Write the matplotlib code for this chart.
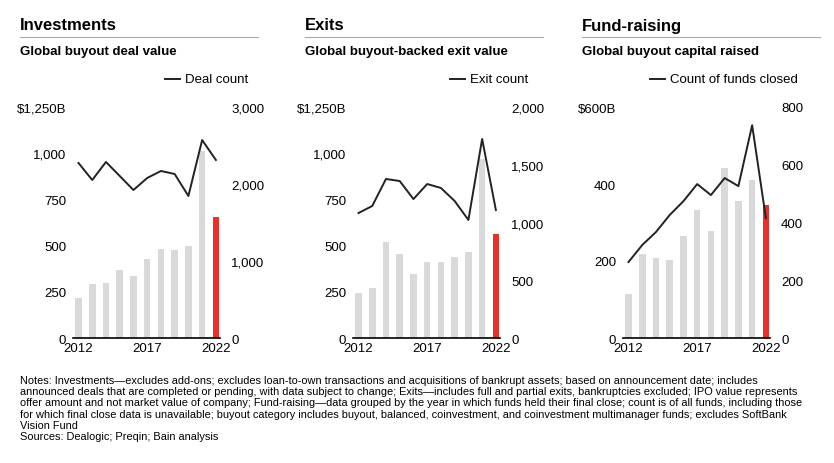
import numpy as np
import matplotlib.pyplot as plt
from matplotlib.lines import Line2D

plt.rcParams['font.family'] = ['Liberation Sans', 'DejaVu Sans']

years = np.arange(2012, 2023)

# Investments
deal_value = [216, 292, 298, 368, 335, 427, 482, 478, 498, 1012, 655]
deal_count = [2273, 2052, 2286, 2104, 1922, 2078, 2169, 2130, 1844, 2571, 2312]
# Exits
exit_value = [244, 270, 519, 454, 346, 411, 411, 438, 465, 968, 563]
exit_count = [1082, 1143, 1377, 1359, 1203, 1333, 1299, 1186, 1022, 1723, 1108]
# Fund-raising
capital = [114, 218, 208, 203, 265, 332, 278, 442, 356, 410, 345]
funds_closed = [263, 322, 367, 426, 474, 533, 495, 554, 526, 737, 415]

panels = [
    dict(head="Investments", sub="Global buyout deal value", leg="Deal count",
         bars=deal_value, line=deal_count, lmax=1250, lticks=[0, 250, 500, 750, 1000, 1250],
         ltop="$1,250B", rmax=3000, rticks=[0, 1000, 2000, 3000],
         x0=20, ax0=73),
    dict(head="Exits", sub="Global buyout-backed exit value", leg="Exit count",
         bars=exit_value, line=exit_count, lmax=1250, lticks=[0, 250, 500, 750, 1000, 1250],
         ltop="$1,250B", rmax=2000, rticks=[0, 500, 1000, 1500, 2000],
         x0=305, ax0=353),
    dict(head="Fund-raising", sub="Global buyout capital raised", leg="Count of funds closed",
         bars=capital, line=funds_closed, lmax=600, lticks=[0, 200, 400, 600],
         ltop="$600B", rmax=800, rticks=[0, 200, 400, 600, 800],
         x0=582, ax0=623),
]

W, H = 834, 464
AW = 147
fig = plt.figure(figsize=(W / 100, H / 100), dpi=100)
legs = []

for p in panels:
    fig.text(p['x0'] / W, 1 - 26 / H, p['head'], fontsize=12, fontweight='bold', va='center')
    fig.add_artist(Line2D([p['x0'] / W, (p['x0'] + 238) / W], [1 - 38 / H] * 2,
                          color='#aaaaaa', lw=0.8))
    fig.text(p['x0'] / W, 1 - 52 / H, p['sub'], fontsize=9.5, fontweight='bold', va='center')

    ax = fig.add_axes([p['ax0'] / W, 1 - 339 / H, AW / W, 231 / H])
    colors = ['#d9d9d9'] * 10 + ['#e8312a']
    ax.bar(years, p['bars'], width=0.48, color=colors, zorder=1)
    ax.set_ylim(0, p['lmax'])
    ax.set_xlim(2011.6, 2022.3)
    ax.set_yticks(p['lticks'])
    labs = [f"{v:,}" for v in p['lticks']]
    labs[-1] = p['ltop']
    ax.set_yticklabels(labs)
    ax.set_xticks([2012, 2017, 2022])
    for s in ['top', 'right', 'left']:
        ax.spines[s].set_visible(False)
    ax.spines['bottom'].set_linewidth(1.2)
    ax.tick_params(axis='y', length=0, labelsize=9.5, pad=5)
    ax.tick_params(axis='x', length=0, labelsize=9.5, pad=3)

    ax2 = ax.twinx()
    ax2.plot(years, p['line'], color='#222222', lw=1.4)
    ax2.set_ylim(0, p['rmax'])
    ax2.set_yticks(p['rticks'])
    ax2.set_yticklabels([f"{v:,}" for v in p['rticks']])
    for s in ax2.spines.values():
        s.set_visible(False)
    ax2.tick_params(length=0, labelsize=9.5, pad=8)

    lx = (p['ax0'] + AW + 28) / W
    legs.append(fig.text(lx, 1 - 80 / H, p['leg'], fontsize=9.5, ha='right', va='center'))

notes = ("Notes: Investments\u2014excludes add-ons; excludes loan-to-own transactions and acquisitions of bankrupt assets; based on announcement date; includes\n"
         "announced deals that are completed or pending, with data subject to change; Exits\u2014includes full and partial exits, bankruptcies excluded; IPO value represents\n"
         "offer amount and not market value of company; Fund-raising\u2014data grouped by the year in which funds held their final close; count is of all funds, including those\n"
         "for which final close data is unavailable; buyout category includes buyout, balanced, coinvestment, and coinvestment multimanager funds; excludes SoftBank\n"
         "Vision Fund\n"
         "Sources: Dealogic; Preqin; Bain analysis")
fig.text(20 / W, 1 - 376 / H, notes, fontsize=7.9, va='top', linespacing=1.15)

# line samples for the legends
fig.canvas.draw()
r = fig.canvas.get_renderer()
for t in legs:
    bb = t.get_window_extent(renderer=r)
    x1 = (bb.x0 - 5) / W
    fig.add_artist(Line2D([x1 - 15 / W, x1], [1 - 80 / H] * 2, color='#222222', lw=1.4))

fig.savefig('out.png', dpi=100)
